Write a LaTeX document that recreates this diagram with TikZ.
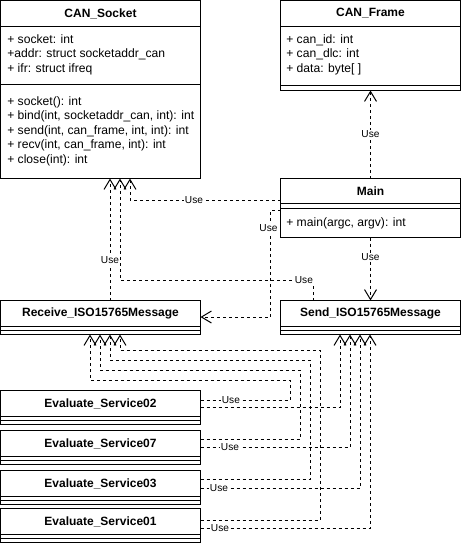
\documentclass[tikz,border=0pt]{standalone}
\usepackage{fontspec}
\setmainfont{Liberation Sans}
\usetikzlibrary{arrows.meta,calc}
\begin{document}
\begin{tikzpicture}[x=0.75pt,y=-0.75pt,
  cls/.style={draw, line width=0.75pt, anchor=north west, inner sep=0, outer sep=0},
  ctitle/.style={font=\fontsize{9}{10}\selectfont\bfseries, inner sep=0},
  members/.style={font=\fontsize{9.1}{10.9}\selectfont, align=left, anchor=west, inner sep=0},
  sepline/.style={line width=0.75pt},
  dep/.style={line width=0.75pt, dash pattern=on 2.25pt off 2.25pt,
    -{Straight Barb[length=7.5pt,width=9pt]}},
  lbl/.style={font=\fontsize{7.6}{9}\selectfont, fill=white, inner sep=0.6pt},
]
\fill[white] (0,0) rectangle (461,543);
\useasboundingbox (0,0) rectangle (461,543);

% ---- class boxes ----
\node[cls, minimum width=150pt, minimum height=133.5pt] (sock) at (0.5,0.5) {};
\node[cls, minimum width=135pt, minimum height=67.5pt] (frame) at (280.5,0.5) {};
\node[cls, minimum width=135pt, minimum height=44.25pt] (main) at (280.5,178.5) {};
\node[cls, minimum width=150pt, minimum height=25.5pt] (recv) at (0.5,300.5) {};
\node[cls, minimum width=135pt, minimum height=25.5pt] (send) at (280.5,300.5) {};
\node[cls, minimum width=150pt, minimum height=25.5pt] (e02) at (0.5,390.5) {};
\node[cls, minimum width=150pt, minimum height=25.5pt] (e07) at (0.5,430.5) {};
\node[cls, minimum width=150pt, minimum height=25.5pt] (e03) at (0.5,470.5) {};
\node[cls, minimum width=150pt, minimum height=25.5pt] (e01) at (0.5,508.5) {};

% compartment separators
\foreach \b/\a/\c in {sock/26/84, frame/26/85, main/25/30, recv/26/30, send/26/30,
                      e02/26/30, e07/26/30, e03/26/30, e01/26/30}{
  \draw[sepline] ($(\b.north west)+(0,\a)$) -- ($(\b.north east)+(0,\a)$);
  \draw[sepline] ($(\b.north west)+(0,\c)$) -- ($(\b.north east)+(0,\c)$);
}

% ---- titles ----
\node[ctitle] (sockT) at (100.5,13.5) {CAN\_Socket};
\node[ctitle] (frameT) at (370.5,13.5) {CAN\_Frame};
\node[ctitle] (mainT) at (370.5,191) {Main};
\node[ctitle] (recvT) at (100.5,313.5) {Receive\_ISO15765Message};
\node[ctitle] (sendT) at (370.5,313.5) {Send\_ISO15765Message};
\node[ctitle] (e02T) at (100.5,403.5) {Evaluate\_Service02};
\node[ctitle] (e07T) at (100.5,443.5) {Evaluate\_Service07};
\node[ctitle] (e03T) at (100.5,483.5) {Evaluate\_Service03};
\node[ctitle] (e01T) at (100.5,521.5) {Evaluate\_Service01};

% ---- members ----
\node[members] (sockA) at (7,54.5) {+ socket: int\\+addr: struct socketaddr\_can\\+ ifr: struct ifreq};
\node[members] (sockM) at (7,131) {+ socket(): int\\+ bind(int, socketaddr\_can, int): int\\+ send(int, can\_frame, int, int): int\\+ recv(int, can\_frame, int): int\\+ close(int): int};
\node[members] (frameA) at (286,54.5) {+ can\_id: int\\+ can\_dlc: int\\+ data: byte[ ]};
\node[members] (mainM) at (286,223) {+ main(argc, argv): int};

% ---- dependencies ----
\draw[dep] (main.north) -- node[lbl, pos=0.5] {Use} (frame.south);
\draw[dep] (main.south) -- node[lbl, pos=0.31] {Use} (send.north);
\draw[dep] ($(main.north west)+(0,21.5)$) -- node[lbl, pos=0.575] {Use}
  ($(sock.south west)+(129.5,21.5)$) -- ($(sock.south west)+(129.5,0)$);
\draw[dep] ($(main.north west)+(0,31.5)$) -- ++(-10,0)
  -- node[lbl, pos=0.17, xshift=-1.5pt] {Use} ++(0,107) -- ($(recv.north east)+(0,16.5)$);
\draw[dep] ($(recv.north west)+(109.5,0)$) -- node[lbl, pos=0.33] {Use} ($(sock.south west)+(109.5,0)$);
\draw[dep] ($(send.north west)+(32.5,0)$) -- ++(0,-20.5)
  -- node[lbl, pos=0.047] {Use} ($(sock.south west)+(119.5,101.5)$) -- ($(sock.south west)+(119.5,0)$);

% Evaluate_Service02
\draw[dep] ($(e02.north east)+(0,9.5)$) -- node[lbl, pos=0.34] {Use} ++(89.5,0) -- ++(0,-20)
  -- ($(recv.south west)+(89.5,45.5)$) -- ($(recv.south west)+(89.5,0)$);
\draw[dep] ($(e02.north east)+(0,16.5)$) -- ($(send.south west)+(59.5,72.5)$) -- ($(send.south west)+(59.5,0)$);
% Evaluate_Service07
\draw[dep] ($(e07.north east)+(0,8.5)$) -- ++(99.5,0) -- ++(0,-69)
  -- ($(recv.south west)+(99.5,35.5)$) -- ($(recv.south west)+(99.5,0)$);
\draw[dep] ($(e07.north east)+(0,16.5)$) -- node[lbl, pos=0.197] {Use}
  ($(send.south west)+(69.5,112.5)$) -- ($(send.south west)+(69.5,0)$);
% Evaluate_Service03
\draw[dep] ($(e03.north east)+(0,8.5)$) -- ++(109.5,0) -- ++(0,-119)
  -- ($(recv.south west)+(109.5,25.5)$) -- ($(recv.south west)+(109.5,0)$);
\draw[dep] ($(e03.north east)+(0,17.5)$) -- node[lbl, pos=0.116] {Use}
  ($(send.south west)+(79.5,153.5)$) -- ($(send.south west)+(79.5,0)$);
% Evaluate_Service01
\draw[dep] ($(e01.north east)+(0,11.5)$) -- ++(119.5,0) -- ++(0,-170)
  -- ($(recv.south west)+(119.5,15.5)$) -- ($(recv.south west)+(119.5,0)$);
\draw[dep] ($(e01.north east)+(0,19.5)$) -- node[lbl, pos=0.115] {Use}
  ($(send.south west)+(89.5,193.5)$) -- ($(send.south west)+(89.5,0)$);
\end{tikzpicture}
\end{document}
